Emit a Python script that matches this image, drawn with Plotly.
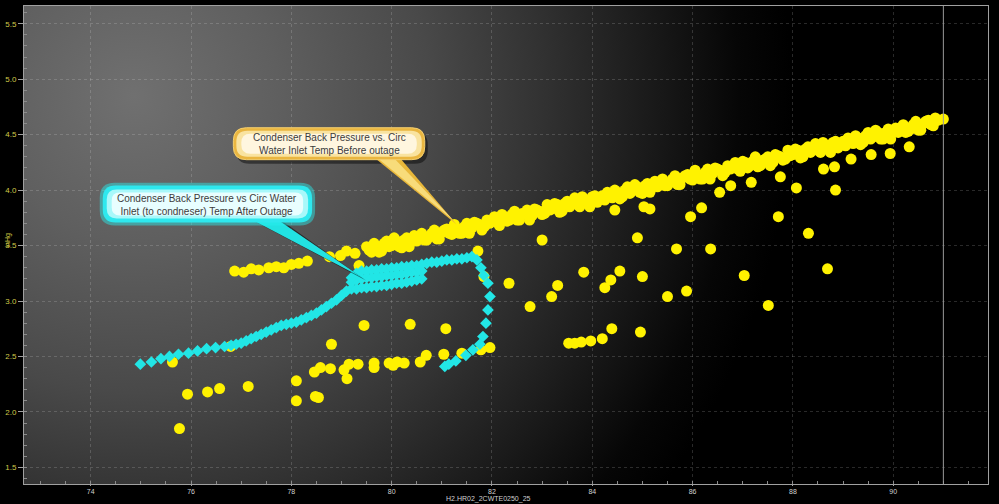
import base64
import plotly.graph_objects as go

# ---------------- data ----------------
# Before outage: main band, row 1 (Circ water inlet temp, condenser back pressure)
band_temp = [79.5, 79.6, 79.7, 79.8, 79.9, 80.0, 80.1, 80.2, 80.3, 80.4, 80.5, 80.6, 80.7, 80.8, 80.9,
             81.0, 81.1, 81.2, 81.3, 81.4, 81.5, 81.6, 81.7, 81.8, 81.9, 82.0, 82.1, 82.2, 82.3, 82.4,
             82.5, 82.6, 82.7, 82.8, 82.9, 83.0, 83.1, 83.2, 83.3, 83.4, 83.5, 83.6, 83.7, 83.8, 83.9,
             84.0, 84.1, 84.2, 84.3, 84.4, 84.5, 84.6, 84.7, 84.8, 84.9, 85.0, 85.1, 85.2, 85.3, 85.4,
             85.5, 85.6, 85.7, 85.8, 85.9, 86.0, 86.1, 86.2, 86.3, 86.4, 86.5, 86.6, 86.7, 86.8, 86.9,
             87.0, 87.1, 87.2, 87.3, 87.4, 87.5, 87.6, 87.7, 87.8, 87.9, 88.0, 88.1, 88.2, 88.3, 88.4,
             88.5, 88.6, 88.7, 88.8, 88.9, 89.0, 89.1, 89.2, 89.3, 89.4, 89.5, 89.6, 89.7, 89.8, 89.9,
             90.0, 90.1, 90.2, 90.3, 90.4, 90.5, 90.6, 90.7, 90.8, 90.9]
band_press = [3.49, 3.44, 3.49, 3.45, 3.54, 3.50, 3.54, 3.48, 3.57, 3.55, 3.54, 3.61, 3.55, 3.61, 3.56,
              3.62, 3.65, 3.60, 3.65, 3.61, 3.70, 3.66, 3.70, 3.64, 3.73, 3.72, 3.71, 3.78, 3.72, 3.78,
              3.73, 3.79, 3.82, 3.77, 3.82, 3.78, 3.87, 3.83, 3.87, 3.81, 3.90, 3.88, 3.87, 3.94, 3.88,
              3.94, 3.89, 3.95, 3.98, 3.93, 3.98, 3.94, 4.03, 3.99, 4.03, 3.97, 4.06, 4.04, 4.03, 4.10,
              4.04, 4.10, 4.05, 4.11, 4.14, 4.09, 4.14, 4.10, 4.19, 4.15, 4.19, 4.13, 4.22, 4.20, 4.19,
              4.26, 4.20, 4.26, 4.21, 4.27, 4.30, 4.25, 4.31, 4.27, 4.36, 4.32, 4.36, 4.30, 4.39, 4.37,
              4.36, 4.43, 4.37, 4.43, 4.38, 4.44, 4.47, 4.42, 4.47, 4.43, 4.52, 4.48, 4.52, 4.46, 4.55,
              4.53, 4.52, 4.59, 4.53, 4.59, 4.54, 4.60, 4.63, 4.58, 4.63]

# Before outage: main band, row 2
band2_temp = [79.55, 79.65, 79.75, 79.85, 79.95, 80.05, 80.15, 80.25, 80.35, 80.45, 80.55, 80.65, 80.75,
              80.85, 80.95, 81.05, 81.15, 81.25, 81.35, 81.45, 81.55, 81.65, 81.75, 81.85, 81.95, 82.05,
              82.15, 82.25, 82.35, 82.45, 82.55, 82.65, 82.75, 82.85, 82.95, 83.05, 83.15, 83.25, 83.35,
              83.45, 83.55, 83.65, 83.75, 83.85, 83.95, 84.05, 84.15, 84.25, 84.35, 84.45, 84.55, 84.65,
              84.75, 84.85, 84.95, 85.05, 85.15, 85.25, 85.35, 85.45, 85.55, 85.65, 85.75, 85.85, 85.95,
              86.05, 86.15, 86.25, 86.35, 86.45, 86.55, 86.65, 86.75, 86.85, 86.95, 87.05, 87.15, 87.25,
              87.35, 87.45, 87.55, 87.65, 87.75, 87.85, 87.95, 88.05, 88.15, 88.25, 88.35, 88.45, 88.55,
              88.65, 88.75, 88.85, 88.95, 89.05, 89.15, 89.25, 89.35, 89.45, 89.55, 89.65, 89.75, 89.85,
              89.95, 90.05, 90.15, 90.25, 90.35, 90.45, 90.55, 90.65, 90.75, 90.85]
band2_press = [3.46, 3.52, 3.44, 3.52, 3.49, 3.57, 3.49, 3.55, 3.49, 3.59, 3.57, 3.55, 3.58,
               3.64, 3.56, 3.64, 3.61, 3.69, 3.61, 3.67, 3.61, 3.71, 3.69, 3.67, 3.70, 3.76,
               3.68, 3.76, 3.73, 3.81, 3.73, 3.79, 3.73, 3.83, 3.81, 3.79, 3.82, 3.88, 3.80,
               3.88, 3.85, 3.93, 3.85, 3.91, 3.85, 3.95, 3.93, 3.91, 3.94, 4.00, 3.92, 4.00,
               3.97, 4.05, 3.98, 4.04, 3.98, 4.08, 4.06, 4.04, 4.07, 4.13, 4.05, 4.13, 4.10,
               4.18, 4.10, 4.16, 4.10, 4.20, 4.18, 4.16, 4.19, 4.25, 4.17, 4.25, 4.22, 4.30,
               4.22, 4.28, 4.22, 4.32, 4.30, 4.28, 4.31, 4.37, 4.29, 4.37, 4.34, 4.42, 4.34,
               4.40, 4.34, 4.44, 4.42, 4.40, 4.43, 4.49, 4.41, 4.49, 4.46, 4.54, 4.46, 4.52,
               4.46, 4.56, 4.54, 4.52, 4.55, 4.62, 4.54, 4.62, 4.59, 4.64]

# Before outage: low-temperature segment of the band
lowseg_temp = [76.87, 77.05, 77.20, 77.35, 77.55, 77.70, 77.85, 78.00, 78.15, 78.32, 78.76, 78.98,
               79.10, 79.27, 79.35]
lowseg_press = [3.27, 3.26, 3.29, 3.28, 3.30, 3.31, 3.30, 3.33, 3.34, 3.36, 3.40, 3.41,
                3.45, 3.43, 3.32]

# Before outage: scattered points
scatter_temp = [75.63, 75.77, 75.93, 76.33, 76.57, 76.79, 77.14, 78.10, 78.10, 78.46, 78.48, 78.54,
                78.58, 78.78, 78.80, 79.05, 79.11, 79.15, 79.33, 79.45, 79.65, 79.65, 79.95, 80.03,
                80.11, 80.25, 80.37, 80.57, 80.69, 81.04, 81.08, 81.40, 81.78, 81.96, 81.72, 81.84,
                82.34, 82.76, 83.00, 83.19, 83.31, 83.53, 83.65, 83.78, 83.97, 84.20, 84.39, 84.96,
                83.83, 84.25, 84.37, 84.55, 85.00, 84.45, 85.03, 85.15, 84.90, 85.50, 85.68, 85.88,
                85.96, 86.18, 86.36, 86.54, 86.76, 87.03, 87.17, 87.51, 87.71, 87.75, 88.07, 88.31,
                88.61, 88.69, 88.83, 88.85, 89.16, 89.56, 89.94, 90.32, 90.84, 91.00]
scatter_press = [2.45, 1.85, 2.16, 2.18, 2.21, 2.59, 2.23, 2.28, 2.10, 2.36, 2.14, 2.13,
                 2.40, 2.39, 2.61, 2.38, 2.30, 2.43, 2.43, 2.78, 2.44, 2.40, 2.44, 2.42,
                 2.45, 2.44, 2.79, 2.45, 2.51, 2.52, 2.75, 2.53, 2.56, 2.58, 3.45, 3.22,
                 3.16, 2.95, 3.55, 3.04, 3.14, 2.62, 2.62, 2.63, 2.64, 2.66, 2.75, 2.72,
                 3.26, 3.12, 3.19, 3.27, 3.22, 3.82, 3.85, 3.83, 3.57, 3.04, 3.47, 3.09,
                 3.76, 3.84, 3.47, 3.98, 4.04, 3.23, 4.07, 2.96, 3.76, 4.12, 4.02, 3.61,
                 4.19, 3.29, 4.21, 4.00, 4.28, 4.32, 4.33, 4.39, 4.65, 4.64]

# After outage: curve
after_temp = [74.99, 75.21, 75.40, 75.57, 75.75, 75.95, 76.13, 76.31, 76.49, 76.67,
              76.80, 76.90, 77.00, 77.10, 77.20, 77.30, 77.40, 77.50, 77.60, 77.70, 77.80, 77.90,
              78.00, 78.10, 78.20, 78.30, 78.40, 78.50, 78.60, 78.70, 78.80, 78.90, 79.00, 79.10,
              80.70, 80.80, 80.90, 81.00, 81.10, 81.20, 81.30, 81.40, 81.50, 81.60, 81.70, 81.78, 81.84,
              81.92, 81.96, 81.92, 81.88, 81.82, 81.76, 81.62, 81.48, 81.28, 81.14, 81.06]
after_press = [2.43, 2.45, 2.48, 2.50, 2.52, 2.53, 2.55, 2.57, 2.58, 2.59,
               2.60, 2.61, 2.62, 2.64, 2.66, 2.68, 2.70, 2.72, 2.74, 2.76, 2.78, 2.79,
               2.80, 2.81, 2.83, 2.85, 2.87, 2.89, 2.92, 2.95, 2.98, 3.01, 3.05, 3.09,
               3.34, 3.35, 3.35, 3.36, 3.37, 3.37, 3.38, 3.38, 3.39, 3.40, 3.37, 3.30, 3.23,
               3.16, 3.04, 2.92, 2.80, 2.68, 2.61, 2.56, 2.51, 2.46, 2.43, 2.41]

# After outage: dense cluster (three rows)
blob_temp = [79.2, 79.3, 79.4, 79.5, 79.6, 79.7, 79.8, 79.9, 80.0, 80.1, 80.2, 80.3, 80.4, 80.5, 80.6]
blob_low = [3.11, 3.11, 3.12, 3.12, 3.13, 3.13, 3.14, 3.14, 3.15, 3.16, 3.16, 3.17, 3.18, 3.19, 3.20]
blob_mid = [3.17, 3.19, 3.20, 3.21, 3.21, 3.22, 3.22, 3.23, 3.23, 3.24, 3.24, 3.25, 3.26, 3.26, 3.27]
blob_high = [3.21, 3.25, 3.27, 3.27, 3.28, 3.28, 3.29, 3.29, 3.30, 3.30, 3.31, 3.31, 3.32, 3.32, 3.33]

x_ticks = [74, 76, 78, 80, 82, 84, 86, 88, 90]
y_ticks = [1.5, 2.0, 2.5, 3.0, 3.5, 4.0, 4.5, 5.0, 5.5]
x_range = [72.67, 91.89]
y_range = [1.35, 5.66]
cursor_temp = 91.0
x_title = "H2.HR02_2CWTE0250_25"
y_title = "inHg"
note_before = "Condenser Back Pressure vs. Circ<br>Water Inlet Temp Before outage"
note_after = "Condenser Back Pressure vs Circ Water<br>Inlet (to condneser) Temp After Outage"

# ---------------- layout geometry ----------------
W, H = 999, 504
ML, MR, MT, MB = 21, 11, 5, 20
PW, PH = W - ML - MR, H - MT - MB


def P(x, y):
    return f"{(x - ML) / PW:.5f},{(H - MB - y) / PH:.5f}"


def rr(x0, y0, x1, y1, r):
    return (f"M {P(x0 + r, y0)} L {P(x1 - r, y0)} Q {P(x1, y0)} {P(x1, y0 + r)} "
            f"L {P(x1, y1 - r)} Q {P(x1, y1)} {P(x1 - r, y1)} L {P(x0 + r, y1)} "
            f"Q {P(x0, y1)} {P(x0, y1 - r)} L {P(x0, y0 + r)} Q {P(x0, y0)} {P(x0 + r, y0)} Z")


def tri(a, b, c):
    return f"M {P(*a)} L {P(*b)} L {P(*c)} Z"


svg = (f'<svg xmlns="http://www.w3.org/2000/svg" width="{PW}" height="{PH}" viewBox="0 0 {PW} {PH}" '
       f'preserveAspectRatio="none"><defs><radialGradient id="g" gradientUnits="userSpaceOnUse" '
       f'cx="110" cy="90" r="660">'
       f'<stop offset="0" stop-color="#707070"/><stop offset="0.22" stop-color="#5f5f5f"/>'
       f'<stop offset="0.45" stop-color="#494949"/><stop offset="0.62" stop-color="#323232"/>'
       f'<stop offset="0.8" stop-color="#181818"/><stop offset="0.92" stop-color="#060606"/>'
       f'<stop offset="1" stop-color="#000000"/></radialGradient></defs>'
       f'<rect width="{PW}" height="{PH}" fill="url(#g)"/></svg>')
bg_src = "data:image/svg+xml;base64," + base64.b64encode(svg.encode()).decode()

fig = go.Figure()
fig.add_trace(go.Scatter(x=band_temp + band2_temp + lowseg_temp + scatter_temp,
                         y=band_press + band2_press + lowseg_press + scatter_press,
                         mode="markers", name="Before outage",
                         marker=dict(color="#fff200", size=11, symbol="circle", line=dict(width=0))))
fig.add_trace(go.Scatter(x=after_temp + blob_temp + blob_temp + blob_temp,
                         y=after_press + blob_low + blob_mid + blob_high,
                         mode="markers", name="After outage",
                         marker=dict(color="#22e6e6", size=9, symbol="diamond", line=dict(width=0))))

shapes = []
# cursor line
shapes.append(dict(type="line", xref="x", yref="paper", x0=cursor_temp, x1=cursor_temp, y0=0, y1=1,
                   line=dict(color="#9a9a9a", width=1)))
# yellow callout
shapes.append(dict(type="path", xref="paper", yref="paper", path=rr(234, 131, 426, 163, 13),
                   fillcolor="rgba(0,0,0,0.45)", line=dict(width=0)))
shapes.append(dict(type="path", xref="paper", yref="paper", path=tri((364, 150), (455, 224), (392, 150)),
                   fillcolor="#e9b83a", line=dict(width=0)))
shapes.append(dict(type="path", xref="paper", yref="paper", path=tri((369, 152), (452, 220), (387, 152)),
                   fillcolor="#f8dc7a", line=dict(width=0)))
shapes.append(dict(type="path", xref="paper", yref="paper", path=rr(231, 127, 423, 159, 13),
                   fillcolor="#eab640", line=dict(color="#f5d070", width=1)))
shapes.append(dict(type="path", xref="paper", yref="paper", path=rr(234, 130, 420, 156, 11),
                   fillcolor="#f9e3a0", line=dict(width=0)))
shapes.append(dict(type="path", xref="paper", yref="paper", path=rr(239, 133, 415, 153, 9),
                   fillcolor="#fff6df", line=dict(width=0)))
# cyan callout
shapes.append(dict(type="path", xref="paper", yref="paper", path=tri((236, 212), (364, 280), (268, 212)),
                   fillcolor="rgba(0,0,0,0.5)", line=dict(width=0)))
shapes.append(dict(type="path", xref="paper", yref="paper", path=tri((232, 210), (360, 277), (262, 210)),
                   fillcolor="#22e2e2", line=dict(width=0)))
shapes.append(dict(type="path", xref="paper", yref="paper", path=rr(97, 182, 313, 225, 15),
                   fillcolor="rgba(40,240,240,0.45)", line=dict(width=0)))
shapes.append(dict(type="path", xref="paper", yref="paper", path=rr(100, 185, 310, 222, 13),
                   fillcolor="#2ee8ee", line=dict(width=0)))
shapes.append(dict(type="path", xref="paper", yref="paper", path=rr(104, 189, 306, 218, 10),
                   fillcolor="#a8f8fa", line=dict(width=0)))
shapes.append(dict(type="path", xref="paper", yref="paper", path=rr(109, 192, 301, 215, 8),
                   fillcolor="#e8feff", line=dict(width=0)))

ann_font = dict(family="Liberation Sans, Arial, sans-serif", size=10, color="#3c3c3c")
narrow = "Liberation Sans Narrow, Arial Narrow, sans-serif"
annotations = [
    dict(xref="paper", yref="paper", x=(327 - ML) / PW, y=(H - MB - 143) / PH, text=note_before,
         showarrow=False, font=ann_font, align="center", xanchor="center", yanchor="middle"),
    dict(xref="paper", yref="paper", x=(205 - ML) / PW, y=(H - MB - 204) / PH, text=note_after,
         showarrow=False, font=ann_font, align="center", xanchor="center", yanchor="middle"),
    dict(xref="paper", yref="paper", x=(487 - ML) / PW, y=(H - MB - 504) / PH, text=x_title,
         showarrow=False, font=dict(family=narrow, size=7, color="#cfcfcf"), borderpad=0,
         xanchor="center", yanchor="bottom"),
    dict(xref="paper", yref="paper", x=(4 - ML) / PW, y=(H - MB - 240) / PH, text=y_title, textangle=-90,
         showarrow=False, font=dict(family=narrow, size=7, color="#cfc640"),
         xanchor="center", yanchor="middle"),
]

axis_common = dict(showline=True, linecolor="#a0a0a0", linewidth=1, mirror=True,
                   showgrid=True, gridcolor="rgba(255,255,255,0.16)", griddash="dot", gridwidth=1,
                   zeroline=False, ticks="outside", tickcolor="#a0a0a0")

fig.update_layout(
    width=W, height=H,
    margin=dict(l=ML, r=MR, t=MT, b=MB, pad=0),
    paper_bgcolor="#000000", plot_bgcolor="rgba(0,0,0,0)",
    showlegend=False,
    xaxis=dict(range=x_range, tickvals=x_ticks, ticktext=[str(v) for v in x_ticks], ticklen=1,
               tickfont=dict(family=narrow, size=7, color="#d2d2d2"),
               minor=dict(dtick=0.5, ticks="inside", ticklen=3, tickcolor="#8a8a8a", showgrid=False),
               **axis_common),
    yaxis=dict(range=y_range, tickvals=y_ticks, ticktext=[f"{v:.1f}" for v in y_ticks], ticklen=5,
               tickfont=dict(family=narrow, size=8, color="#d0c848"),
               minor=dict(dtick=0.1, ticks="inside", ticklen=3, tickcolor="#8a8a8a", showgrid=False),
               **axis_common),
    shapes=shapes,
    annotations=annotations,
    images=[dict(source=bg_src, xref="paper", yref="paper", x=0, y=1, sizex=1, sizey=1,
                 xanchor="left", yanchor="top", sizing="stretch", layer="below")],
)

fig.write_html("out.html", config={"displayModeBar": False},
               post_script="document.body.style.margin='0';document.body.style.overflow='hidden';")
